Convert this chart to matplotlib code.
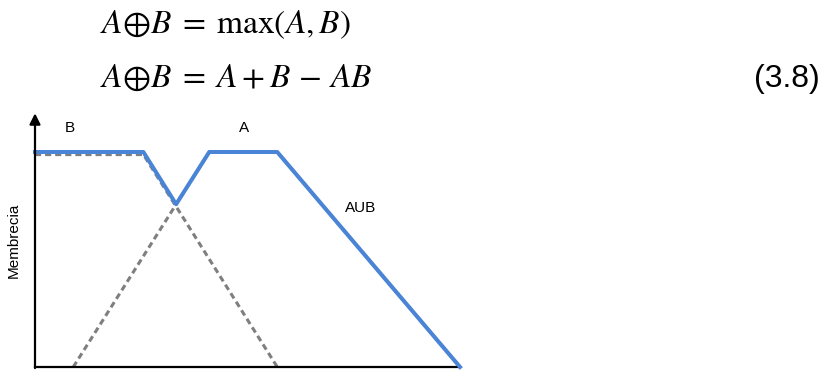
import numpy as np
import matplotlib
matplotlib.use("Agg")
import matplotlib.pyplot as plt

# membership functions (x in arbitrary units, 0..10)
b_x = [0.0, 2.55, 5.7]
b_y = [0.988, 0.988, 0.0]
a_x = [0.9, 4.1, 5.7, 10.0]
a_y = [0.0, 1.0, 1.0, 0.0]
# union A U B = max(A, B), vertices
u_x = [0.0, 2.55, 3.32, 4.1, 5.7, 10.0]
u_y = [1.0, 1.0, 0.757, 1.0, 1.0, 0.0]

labels = {"B": (0.82, 1.11), "A": (4.92, 1.11), "AUB": (7.65, 0.74)}

eq1 = r"$A{\oplus}B\;=\;\mathrm{max}(A,B)$"
eq2 = r"$A{\oplus}B\;=\;A + B\,-\,AB$"
eq_num = "(3.8)"

BLUE = "#4a84d6"
GRAY = "#7f7f7f"

W, H = 832, 373
plt.rcParams["mathtext.fontset"] = "stix"
fig = plt.figure(figsize=(W / 100, H / 100), dpi=100)

# equations at the top
fig.text(100 / W, 1 - 33 / H, eq1, fontsize=24, va="baseline", ha="left")
fig.text(100 / W, 1 - 87 / H, eq2, fontsize=24, va="baseline", ha="left")
fig.text(820 / W, 1 - 87 / H, eq_num, fontsize=23, va="baseline",
         ha="right", family="Liberation Sans")

top = 1.18
ax = fig.add_axes([35 / W, 6 / H, 425 / W, top * 215 / H])
ax.set_xlim(0, 10)
ax.set_ylim(0, top)

dash = (0, (2, 1.3))
ax.plot(b_x, b_y, ls=dash, color=GRAY, lw=2.2, zorder=2)
ax.plot(a_x, a_y, ls=dash, color=GRAY, lw=2.2, zorder=2)
ax.plot(u_x, u_y, color=BLUE, lw=2.9, zorder=3, clip_on=False)

for txt, (x, y) in labels.items():
    ax.text(x, y, txt, fontsize=11, ha="center", va="center",
            family="Liberation Sans")

for s in ["top", "right", "left"]:
    ax.spines[s].set_visible(False)
ax.spines["bottom"].set_linewidth(1.6)
ax.set_xticks([])
ax.set_yticks([])

ax.annotate("", xy=(0, top), xytext=(0, -0.005),
            arrowprops=dict(arrowstyle="-|>", color="black", lw=1.6,
                            mutation_scale=16, shrinkA=0, shrinkB=0),
            annotation_clip=False)

ax.set_ylabel("Membrecia", fontsize=11, family="Liberation Sans", labelpad=10)

fig.savefig("out.png", dpi=100)
